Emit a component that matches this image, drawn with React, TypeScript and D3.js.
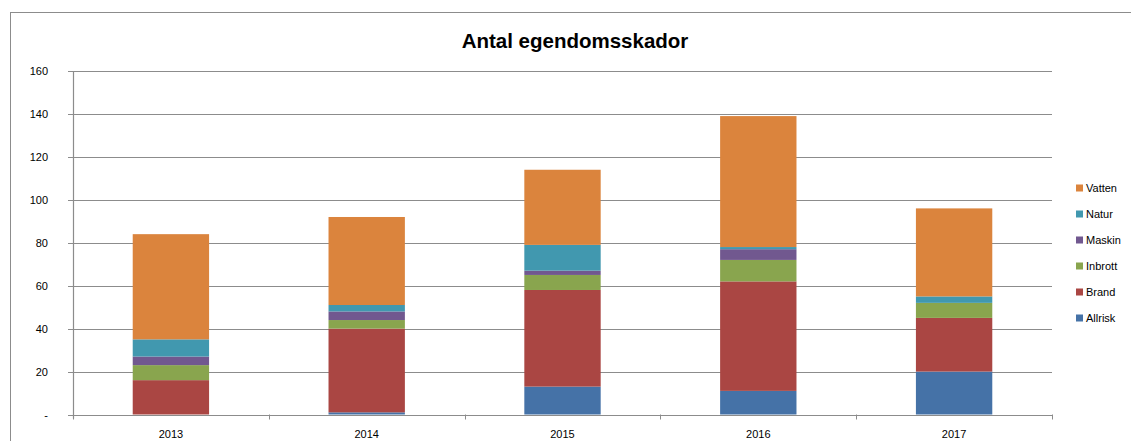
import * as d3 from "d3";
import { useEffect, useRef } from "react";

const years = ["2013", "2014", "2015", "2016", "2017"];
const seriesNames = ["Allrisk", "Brand", "Inbrott", "Maskin", "Natur", "Vatten"];
const allrisk = [0, 1, 13, 11, 20];
const brand = [16, 39, 45, 51, 25];
const inbrott = [7, 4, 7, 10, 7];
const maskin = [4, 4, 2, 5, 0];
const natur = [8, 3, 12, 1, 3];
const vatten = [49, 41, 35, 61, 41];
const colors = ["#4572A7", "#AA4643", "#89A54E", "#71588F", "#4198AF", "#DB843D"];
const yTicks = [0, 20, 40, 60, 80, 100, 120, 140, 160];

function App() {
    const svgRef = useRef(null);

    useEffect(() => {
        const svg = d3.select(svgRef.current);
        svg.selectAll("*").remove();

        const font = "'Liberation Sans', Arial, sans-serif";
        const gray = "#8c8c8c";

        // chart frame
        svg.append("rect")
            .attr("x", 10.5).attr("y", 12.5)
            .attr("width", 1140).attr("height", 460)
            .attr("fill", "white").attr("stroke", gray);

        svg.append("text")
            .attr("x", 575).attr("y", 48)
            .attr("text-anchor", "middle")
            .style("font-family", font)
            .style("font-weight", "bold")
            .style("font-size", "20.5px")
            .text("Antal egendomsskador");

        const x = d3.scaleBand().domain(years).range([73, 1052]).paddingInner(0.61).paddingOuter(0.305);
        const xOuter = d3.scaleBand().domain(years).range([73, 1052]);
        const y = d3.scaleLinear().domain([0, 160]).range([414.5, 71]);

        // gridlines
        svg.append("g").selectAll("line")
            .data(yTicks)
            .join("line")
            .attr("x1", 68).attr("x2", 1052)
            .attr("y1", (d) => Math.round(y(d)) + 0.5)
            .attr("y2", (d) => Math.round(y(d)) + 0.5)
            .attr("stroke", gray)
            .attr("stroke-width", 1.2);

        svg.append("g").selectAll("text")
            .data(yTicks)
            .join("text")
            .attr("x", 48)
            .attr("y", (d) => y(d) + 4)
            .attr("text-anchor", "end")
            .style("font-family", font)
            .style("font-size", "11px")
            .text((d) => (d === 0 ? "-" : d));

        // y axis line
        svg.append("line")
            .attr("x1", 73.5).attr("x2", 73.5)
            .attr("y1", y(160)).attr("y2", y(0) + 4)
            .attr("stroke", gray).attr("stroke-width", 1.2);

        // x ticks
        const bounds = years.map((d) => xOuter(d)).concat([1052]);
        svg.append("g").selectAll("line")
            .data(bounds)
            .join("line")
            .attr("x1", (d) => Math.round(d) + 0.5)
            .attr("x2", (d) => Math.round(d) + 0.5)
            .attr("y1", y(0)).attr("y2", y(0) + 5)
            .attr("stroke", gray);

        svg.append("g").selectAll("text")
            .data(years)
            .join("text")
            .attr("x", (d) => xOuter(d) + xOuter.bandwidth() / 2)
            .attr("y", 438)
            .attr("text-anchor", "middle")
            .style("font-family", font)
            .style("font-size", "11px")
            .text((d) => d);

        // stacked bars
        const rows = years.map((yr, i) => ({
            year: yr,
            Allrisk: allrisk[i],
            Brand: brand[i],
            Inbrott: inbrott[i],
            Maskin: maskin[i],
            Natur: natur[i],
            Vatten: vatten[i],
        }));
        const stacked = d3.stack().keys(seriesNames)(rows);

        svg.append("g").selectAll("g")
            .data(stacked)
            .join("g")
            .attr("fill", (d, i) => colors[i])
            .selectAll("rect")
            .data((d) => d)
            .join("rect")
            .attr("x", (d) => x(d.data.year))
            .attr("width", x.bandwidth())
            .attr("y", (d) => y(d[1]))
            .attr("height", (d) => y(d[0]) - y(d[1]));

        // legend
        const legendNames = seriesNames.slice().reverse();
        const legendColors = colors.slice().reverse();
        const lg = svg.append("g").selectAll("g")
            .data(legendNames)
            .join("g")
            .attr("transform", (d, i) => `translate(1076, ${188 + i * 26})`);
        lg.append("rect")
            .attr("x", 0).attr("y", -3.5)
            .attr("width", 7).attr("height", 7)
            .attr("fill", (d, i) => legendColors[i]);
        lg.append("text")
            .attr("x", 10).attr("y", 4)
            .style("font-family", font)
            .style("font-size", "11px")
            .text((d) => d);
    }, []);

    return (
        <svg ref={svgRef} width={1131} height={441} style={{ position: "absolute", left: 0, top: 0 }}></svg>
    );
}

export default App;
